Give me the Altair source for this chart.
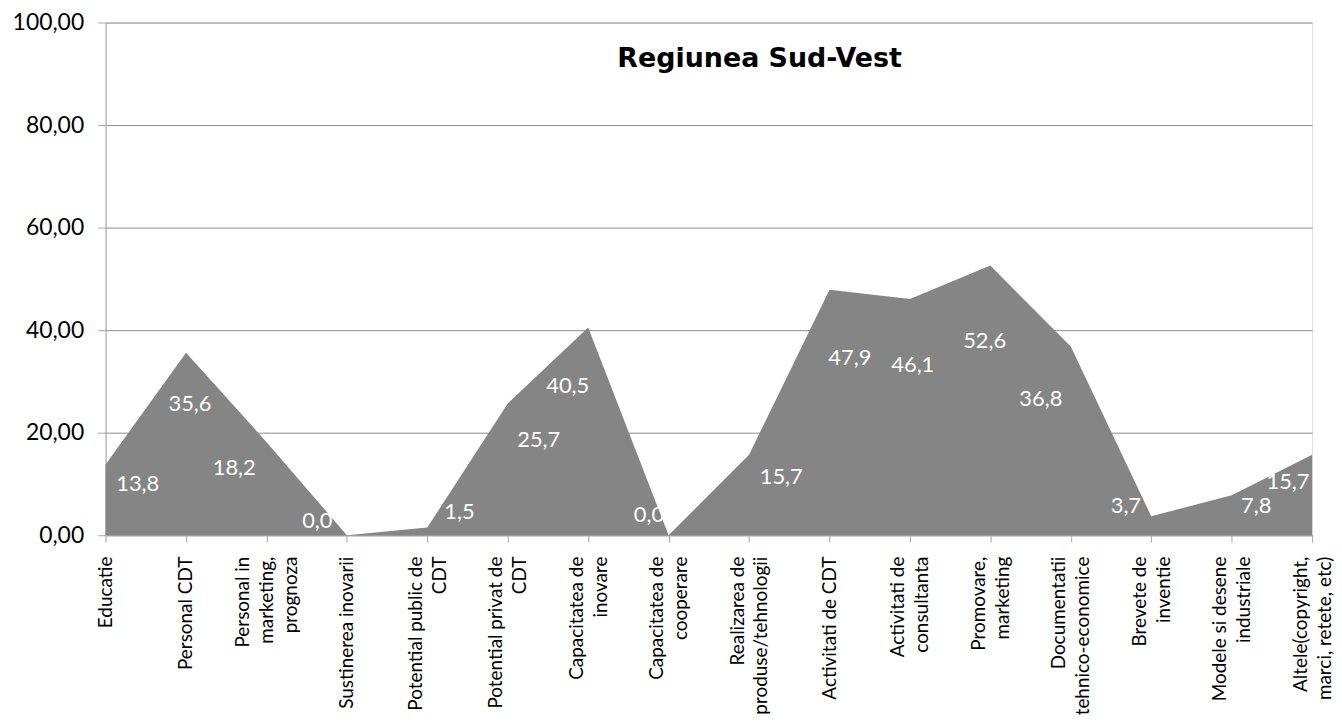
import altair as alt
import pandas as pd
import json

# ---- data ----
categories = [
    "Educatie", "Personal CDT", "Personal in marketing, prognoza", "Sustinerea inovarii",
    "Potential public de CDT", "Potential privat de CDT", "Capacitatea de inovare",
    "Capacitatea de cooperare", "Realizarea de produse/tehnologii", "Activitati de CDT",
    "Activitati de consultanta", "Promovare, marketing", "Documentatii tehnico-economice",
    "Brevete de inventie", "Modele si desene industriale",
    "Altele(copyright, marci, retete, etc)",
]
category_lines = [
    ["Educatie"], ["Personal CDT"], ["Personal in", "marketing,", "prognoza"],
    ["Sustinerea inovarii"], ["Potential public de", "CDT"], ["Potential privat de", "CDT"],
    ["Capacitatea de", "inovare"], ["Capacitatea de", "cooperare"],
    ["Realizarea de", "produse/tehnologii"], ["Activitati de CDT"],
    ["Activitati de", "consultanta"], ["Promovare,", "marketing"],
    ["Documentatii", "tehnico-economice"], ["Brevete de", "inventie"],
    ["Modele si desene", "industriale"], ["Altele(copyright,", "marci, retete, etc)"],
]
values = [13.8, 35.6, 18.2, 0.0, 1.5, 25.7, 40.5, 0.0, 15.7, 47.9, 46.1, 52.6, 36.8, 3.7, 7.8, 15.7]
y_ticks = [0, 20, 40, 60, 80, 100]
chart_title = "Regiunea Sud-Vest"

n = len(values)
df = pd.DataFrame({"idx": list(range(n)), "category": categories, "value": values})

# label anchors derived from the values (placed inside the filled area)
lx, ly = [], []
for i, v in enumerate(values):
    if i == 0:
        s = 0.4
    elif i == n - 1:
        s = -0.3
    else:
        p, q = values[i - 1], values[i + 1]
        s = 0.4 * (q - p) / max(p, q, v, 1.0)
    nb = values[i + 1] if s > 0 else values[i - 1]
    h = v + abs(s) * (nb - v)
    lx.append(i + s)
    ly.append(min(max(0.72 * v, 0.4 * h), max(h - 3, 0.4 * h)))
lab = pd.DataFrame({"lx": lx, "ly": ly, "value": values})

# multi-line tick labels: centre each block of lines on its tick
LINE_H = 24
offset_conditions = []
for k in sorted({len(c) for c in category_lines if len(c) > 1}):
    idxs = [i for i, c in enumerate(category_lines) if len(c) == k]
    offset_conditions.append({"test": f"indexof({json.dumps(idxs)}, datum.value) >= 0",
                              "value": -LINE_H * (k - 1) / 2})

GRAY = "#a6a6a6"
x_scale = alt.Scale(domain=[0, n - 1], nice=False, zero=False)
y_scale = alt.Scale(domain=[0, 100], nice=False)

area = alt.Chart(df).mark_area(color="#858585", opacity=1).encode(
    x=alt.X("idx:Q", scale=x_scale, title=None,
            axis=alt.Axis(values=list(range(n)),
                          labelExpr=json.dumps(category_lines) + "[datum.value]",
                          labelAngle=270, labelAlign="right", labelBaseline="middle",
                          labelOffset={"condition": offset_conditions, "value": 0},
                          labelPadding=14, labelFontSize=19, labelFont="Lato",
                          labelColor="#000000", labelLineHeight=LINE_H,
                          labelOverlap=False, labelBound=False, labelFlush=False,
                          grid=False, domainColor=GRAY, tickColor=GRAY, tickSize=7)),
    y=alt.Y("value:Q", scale=y_scale, title=None,
            axis=alt.Axis(values=y_ticks,
                          labelExpr="replace(format(datum.value, '.2f'), '.', ',')",
                          labelFontSize=23, labelFont="Lato", labelColor="#000000",
                          labelPadding=14, grid=True, gridColor="#8c8c8c",
                          domainColor=GRAY, tickColor=GRAY, tickSize=8)),
)

labels = alt.Chart(lab).mark_text(color="white", fontSize=22, font="Lato").transform_calculate(
    txt="replace(format(datum.value, '.1f'), '.', ',')"
).encode(
    x=alt.X("lx:Q", scale=x_scale),
    y=alt.Y("ly:Q", scale=y_scale),
    text="txt:N",
)

title_mark = alt.Chart(pd.DataFrame({"t": [chart_title]})).mark_text(
    font="DejaVu Sans", fontSize=27, fontWeight="bold", color="#000000",
    align="center", baseline="middle",
).encode(x=alt.value(657), y=alt.value(37), text="t:N")

chart = alt.layer(area, labels, title_mark).properties(
    width=1212, height=515,
    padding={"left": 98, "top": 13, "right": 22, "bottom": 183},
    autosize=alt.AutoSizeParams(type="none"),
).configure_view(stroke=None).configure(background="white")

chart.save("out.html", embed_options={"renderer": "svg", "actions": False})
